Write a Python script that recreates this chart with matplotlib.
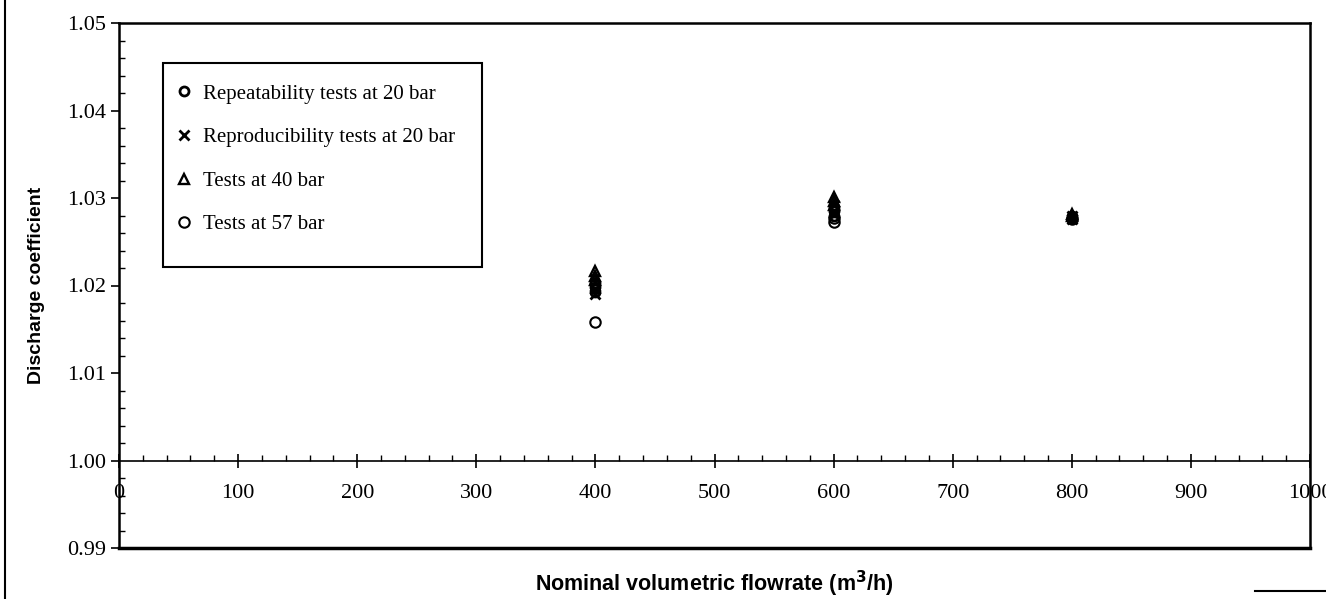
import matplotlib.pyplot as plt
from matplotlib.lines import Line2D
from matplotlib.patches import Rectangle

rep20_x = [400, 400, 400, 600, 600, 600, 800, 800]
rep20_y = [1.0193, 1.0198, 1.0203, 1.0280, 1.0285, 1.0290, 1.0277, 1.0280]
repro20_x = [400, 400, 600, 600, 800, 800]
repro20_y = [1.0190, 1.0196, 1.0283, 1.0292, 1.0276, 1.0279]
bar40_x = [400, 400, 400, 600, 600, 600, 800, 800]
bar40_y = [1.0206, 1.0211, 1.0217, 1.0292, 1.0297, 1.0301, 1.0279, 1.0282]
bar57_x = [400, 600, 600, 800]
bar57_y = [1.0158, 1.0273, 1.0277, 1.0276]
labels = ['Repeatability tests at 20 bar', 'Reproducibility tests at 20 bar',
          'Tests at 40 bar', 'Tests at 57 bar']

serif = 'Liberation Serif'
sans = 'Liberation Sans'
W, H = 1326, 599

fig = plt.figure(figsize=(W/100, H/100), dpi=100)
ax = fig.add_axes([119/W, 1 - 548/H, (1310-119)/W, (548-23)/H])

ax.plot(rep20_x, rep20_y, 'o', ms=6.5, mfc='none', mec='black', mew=2)
ax.plot(repro20_x, repro20_y, 'x', ms=6.5, color='black', mew=2)
ax.plot(bar40_x, bar40_y, '^', ms=7.5, mfc='none', mec='black', mew=1.7)
ax.plot(bar57_x, bar57_y, 'o', ms=7.5, mfc='none', mec='black', mew=1.5)

ax.set_xlim(0, 1000)
ax.set_ylim(0.99, 1.05)
ax.set_xticks(range(0, 1001, 100))
ax.set_xticks(range(0, 1001, 20), minor=True)
ax.set_yticks([0.99, 1.00, 1.01, 1.02, 1.03, 1.04, 1.05])
ax.set_yticklabels(['0.99', '1.00', '1.01', '1.02', '1.03', '1.04', '1.05'])
ax.set_yticks([0.99 + 0.002 * i for i in range(31)], minor=True)

ax.spines['bottom'].set_position(('data', 1.0))
ax.spines['bottom'].set_linewidth(1.2)
for s in ['left', 'right', 'top']:
    ax.spines[s].set_linewidth(1.8)
ax.axhline(0.99, color='black', lw=2.5, clip_on=False)

ax.tick_params(axis='x', which='major', direction='inout', length=10, width=1.2,
               pad=12, labelsize=16)
ax.tick_params(axis='x', which='minor', direction='in', length=4, width=1)
ax.tick_params(axis='y', which='major', direction='out', length=6, width=1.2,
               labelsize=16)
ax.tick_params(axis='y', which='minor', direction='in', length=4, width=1)
for t in ax.get_xticklabels() + ax.get_yticklabels():
    t.set_fontfamily(serif)

ax.set_xlabel('Nominal volumetric flowrate (m$^\\mathbf{3}$/h)', fontfamily=sans,
              fontweight='bold', fontsize=15.5)
ax.xaxis.set_label_coords(0.5, -0.04)
ax.set_ylabel('Discharge coefficient', fontfamily=sans, fontweight='bold', fontsize=14)
ax.yaxis.set_label_coords(-0.062, 0.5)

handles = [
    Line2D([], [], marker='o', ls='none', ms=6.5, mfc='none', mec='black', mew=2),
    Line2D([], [], marker='x', ls='none', ms=6.5, color='black', mew=2),
    Line2D([], [], marker='^', ls='none', ms=7.5, mfc='none', mec='black', mew=1.7),
    Line2D([], [], marker='o', ls='none', ms=7.5, mfc='none', mec='black', mew=1.5),
]
leg = ax.legend(handles, labels, loc='upper left', bbox_to_anchor=(174/W, 1 - 80/H),
                bbox_transform=fig.transFigure, prop={'family': serif, 'size': 15},
                frameon=False, handlelength=0.6, handletextpad=0.6,
                labelspacing=1.15, borderpad=0.2, borderaxespad=0)
fig.add_artist(Rectangle((163/W, 1 - 267/H), (482-163)/W, (267-63)/H,
                         transform=fig.transFigure, fill=False, ec='black', lw=1.5))

# scanned page frame edges
fig.add_artist(Line2D([5/W, 5/W], [0, 1], color='black', lw=1.5))
fig.add_artist(Line2D([1255/W, 1], [1 - 591/H, 1 - 591/H], color='black', lw=1.5))

fig.savefig('out.png', dpi=100)
